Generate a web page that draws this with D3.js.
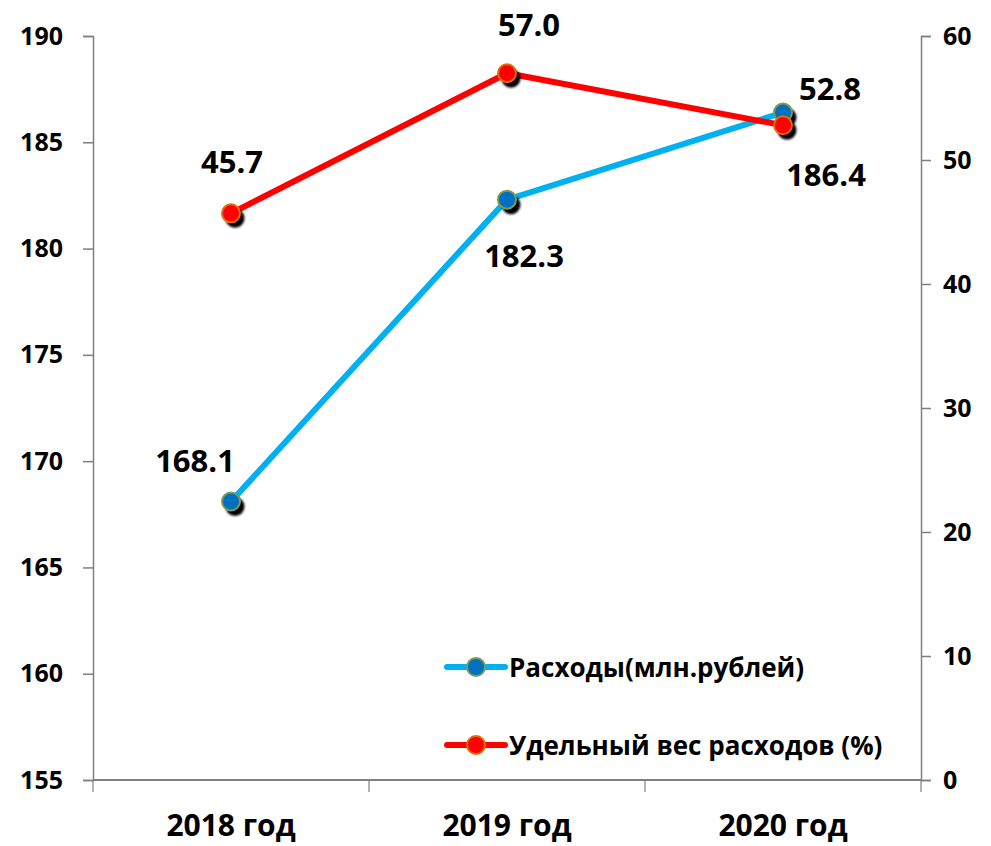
<!DOCTYPE html>
<html>
<head>
<meta charset="utf-8">
<script src="https://cdn.jsdelivr.net/npm/d3@7"></script>
<style>
  body { margin: 0; background: #fff; }
  text { font-family: "Open Sans", "Noto Sans", sans-serif; font-weight: bold; }
</style>
</head>
<body>
<script>
let w = 991;
let h = 846;

const years = ["2018 год", "2019 год", "2020 год"];
const expenses = [168.1, 182.3, 186.4];
const share = [45.7, 57.0, 52.8];
const leftTicks = [155, 160, 165, 170, 175, 180, 185, 190];
const rightTicks = [0, 10, 20, 30, 40, 50, 60];
const seriesNames = ["Расходы(млн.рублей)", "Удельный вес расходов (%)"];

const plotL = 93, plotR = 921, plotT = 36, plotB = 780;

let svg = d3.select("body").append("svg").attr("width", w).attr("height", h);

let defs = svg.append("defs");
defs.append("filter").attr("id", "blur")
  .append("feGaussianBlur").attr("stdDeviation", 1.3);

let x = d3.scaleBand().domain(years).range([plotL, plotR]);
let yL = d3.scaleLinear().domain([155, 190]).range([plotB, plotT]);
let yR = d3.scaleLinear().domain([0, 60]).range([plotB, plotT]);

//left axis
let axL = svg.append("g").attr("transform", `translate(${plotL},0)`)
  .call(d3.axisLeft(yL).tickValues(leftTicks).tickSize(10).tickPadding(20));
//right axis
let axR = svg.append("g").attr("transform", `translate(${plotR},0)`)
  .call(d3.axisRight(yR).tickValues(rightTicks).tickSize(10).tickPadding(12));
[axL, axR].forEach(function (a) {
  a.select(".domain").attr("stroke", "#7f7f7f").attr("stroke-width", 1.5);
  a.selectAll(".tick line").attr("stroke", "#7f7f7f").attr("stroke-width", 1.5);
  a.selectAll(".tick text").attr("font-size", 25).attr("fill", "#000");
});

//x axis
let axX = svg.append("g").attr("transform", `translate(0,${plotB})`);
axX.append("line").attr("x1", plotL).attr("x2", plotR)
  .attr("stroke", "#7f7f7f").attr("stroke-width", 2);
let bounds = years.map(function (d) { return x(d); }).concat([plotR]);
axX.selectAll(".xt").data(bounds).enter().append("line")
  .attr("x1", function (d) { return d; }).attr("x2", function (d) { return d; })
  .attr("y1", 0).attr("y2", 12).attr("stroke", "#7f7f7f").attr("stroke-width", 1.2);
axX.selectAll("text").data(years).enter().append("text")
  .attr("x", function (d) { return x(d) + x.bandwidth() / 2; })
  .attr("y", 56)
  .attr("text-anchor", "middle")
  .attr("font-size", 30)
  .text(function (d) { return d; });

function cx(i) { return x(years[i]) + x.bandwidth() / 2; }

//draw one series
function drawSeries(data, y, lineColor, fill, stroke) {
  let line = d3.line().x(function (d, i) { return cx(i); }).y(function (d) { return y(d); });
  svg.append("path").datum(data).attr("d", line)
    .attr("fill", "none").attr("stroke", lineColor).attr("stroke-width", 6);
  let g = svg.append("g");
  g.selectAll(".sh").data(data).enter().append("circle")
    .attr("cx", function (d, i) { return cx(i) + 4; })
    .attr("cy", function (d) { return y(d) + 5; })
    .attr("r", 9.5).attr("fill", "#000").attr("filter", "url(#blur)");
  g.selectAll(".pt").data(data).enter().append("circle")
    .attr("cx", function (d, i) { return cx(i); })
    .attr("cy", function (d) { return y(d); })
    .attr("r", 9).attr("fill", fill).attr("stroke", stroke).attr("stroke-width", 2);
}

drawSeries(expenses, yL, "#00b0f0", "#0070c0", "#7f9a55");
drawSeries(share, yR, "#ff0000", "#ff0000", "#e46c0a");

//data labels
const expOff = [[-36, -30], [17, 67], [43, 73]];
const shareOff = [[1, -40], [22, -37], [47, -25]];
svg.selectAll(".le").data(expenses).enter().append("text")
  .attr("x", function (d, i) { return cx(i) + expOff[i][0]; })
  .attr("y", function (d, i) { return yL(d) + expOff[i][1]; })
  .attr("text-anchor", "middle").attr("font-size", 31)
  .text(function (d) { return d.toFixed(1); });
svg.selectAll(".ls").data(share).enter().append("text")
  .attr("x", function (d, i) { return cx(i) + shareOff[i][0]; })
  .attr("y", function (d, i) { return yR(d) + shareOff[i][1]; })
  .attr("text-anchor", "middle").attr("font-size", 31)
  .text(function (d) { return d.toFixed(1); });

//legend
const legendY = [667, 745];
const legendStyle = [["#00b0f0", "#0070c0", "#7f9a55"], ["#ff0000", "#ff0000", "#e46c0a"]];
let lg = svg.selectAll(".lg").data(seriesNames).enter().append("g")
  .attr("transform", function (d, i) { return `translate(447,${legendY[i]})`; });
lg.append("line").attr("x1", 0).attr("x2", 58)
  .attr("stroke", function (d, i) { return legendStyle[i][0]; })
  .attr("stroke-width", 6).attr("stroke-linecap", "round");
lg.append("circle").attr("cx", 29).attr("r", 9)
  .attr("fill", function (d, i) { return legendStyle[i][1]; })
  .attr("stroke", function (d, i) { return legendStyle[i][2]; }).attr("stroke-width", 2);
lg.append("text").attr("x", 62).attr("y", 10).attr("font-size", 26)
  .text(function (d) { return d; });
</script>
</body>
</html>
